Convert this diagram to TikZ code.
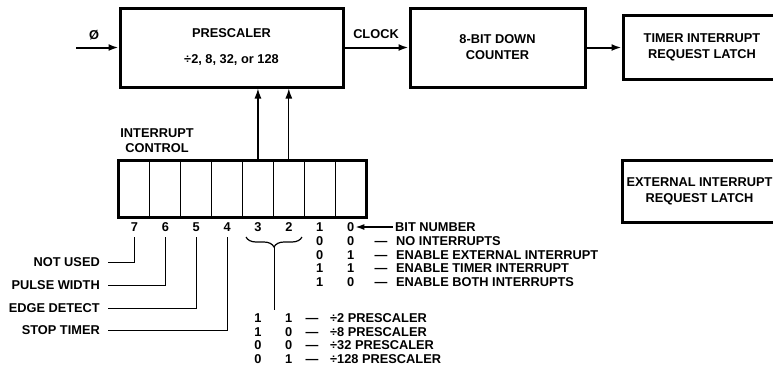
\documentclass[tikz,border=0pt]{standalone}
\usepackage{fontspec}
\setmainfont{Liberation Sans}
\usetikzlibrary{arrows.meta,decorations.pathreplacing}

\tikzset{
  lbl/.style={font=\bfseries\fontsize{12.8}{16}\selectfont, inner sep=0pt, text height=9.2pt, text depth=0pt},
  blocklbl/.style={font=\bfseries\fontsize{12.8}{15}\selectfont, inner sep=0pt, align=center},
  blk/.style={draw, line width=3pt, align=center, font=\bfseries\fontsize{12.8}{16}\selectfont},
  cell/.style={draw, line width=1pt, minimum width=30.875pt, minimum height=56pt, inner sep=0pt},
  flow/.style={line width=2pt, -{Latex[length=10pt,width=7pt]}},
  lead/.style={line width=1pt},
}

\begin{document}
\begin{tikzpicture}[x=1pt, y=-1pt]
  \useasboundingbox (0,0) rectangle (773,373);
  % Top row: prescaler, counter and the two latches
  \node[blk, minimum width=223pt, minimum height=79pt] (prescaler) at (231.5,47.5) {PRESCALER\\[10pt]÷2, 8, 32, or 128};
  \node[blk, minimum width=175pt, minimum height=79pt] (counter) at (497.5,47.5) {8-BIT DOWN\\COUNTER};
  \node[blk, minimum width=158pt, minimum height=64pt] (timerlatch) at (702,47.5) {TIMER INTERRUPT\\REQUEST LATCH};
  \node[blk, minimum width=154pt, minimum height=62pt] (extlatch) at (699.5,191) {EXTERNAL INTERRUPT\\REQUEST LATCH};
  \coordinate (phiin) at (76,47.5);
  \node[lbl] (phi) at (94,35) {Ø};
  \node[lbl] (clock) at (376,34) {CLOCK};
  \draw[flow] (phiin) -- (prescaler.west);
  \draw[flow] (prescaler.east) -- (counter.west);
  \draw[flow] (counter.east) -- (timerlatch.west);

  % Interrupt control register, bit 7 on the left
  \foreach \b [evaluate=\b as \cx using 134.44+30.875*(7-\b)] in {7,6,...,0} {
    \node[cell] (reg\b) at (\cx,189) {};
    \node[lbl] (num\b) at (\cx,227) {\b};
  }
  \draw[line width=3pt] (reg7.north west) rectangle (reg0.south east);
  \node[blocklbl, anchor=south] (ctrllbl) at (157,153) {INTERRUPT\\CONTROL};
  \draw[flow, line width=1.3pt] (reg3.north) -- (reg3.north |- prescaler.south);
  \draw[flow, line width=1.3pt] (reg2.north) -- (reg2.north |- prescaler.south);
  \node[lbl, anchor=west] (bitnum) at (395,227) {BIT NUMBER};
  \draw[line width=1.5pt, -{Latex[length=9pt,width=6pt]}] ([xshift=-2pt]bitnum.west) -- ([xshift=1pt]num0.east);

  % Leaders for bits 7 to 4
  \foreach \b/\txt/\ly in {7/NOT USED/262, 6/PULSE WIDTH/285, 5/EDGE DETECT/308, 4/STOP TIMER/330} {
    \node[lbl, anchor=east, inner xsep=8pt] (use\b) at (108,\ly) {\txt};
    \draw[lead] (use\b.east) -| ([yshift=-5pt]num\b.south);
  }

  % Bits 1 and 0: interrupt selection
  \foreach \r/\hi/\lo/\txt in {1/0/0/NO INTERRUPTS, 2/0/1/ENABLE EXTERNAL INTERRUPT, 3/1/1/ENABLE TIMER INTERRUPT, 4/1/0/ENABLE BOTH INTERRUPTS} {
    \pgfmathsetmacro\ry{241+13.5*(\r-1)}
    \node[lbl] (inthi\r) at (319.7,\ry) {\hi};
    \node[lbl] (intlo\r) at (350.6,\ry) {\lo};
    \node[lbl] (intdash\r) at (381,\ry) {—};
    \node[lbl, anchor=west] (inttxt\r) at (396,\ry) {\txt};
  }

  % Bits 3 and 2: prescaler selection
  \draw[line width=1.2pt, decorate, decoration={brace, mirror, amplitude=10pt}] (246,237) -- (302,237);
  \coordinate (bracetip) at (274,247);
  \coordinate (braceend) at (274,310);
  \draw[lead] (bracetip) -- (braceend);
  \foreach \r/\hi/\lo/\txt in {1/1/1/÷2 PRESCALER, 2/1/0/÷8 PRESCALER, 3/0/0/÷32 PRESCALER, 4/0/1/÷128 PRESCALER} {
    \pgfmathsetmacro\ry{318+13.5*(\r-1)}
    \node[lbl] (pshi\r) at (258,\ry) {\hi};
    \node[lbl] (pslo\r) at (288.8,\ry) {\lo};
    \node[lbl] (psdash\r) at (312,\ry) {—};
    \node[lbl, anchor=west] (pstxt\r) at (330,\ry) {\txt};
  }
\end{tikzpicture}
\end{document}
